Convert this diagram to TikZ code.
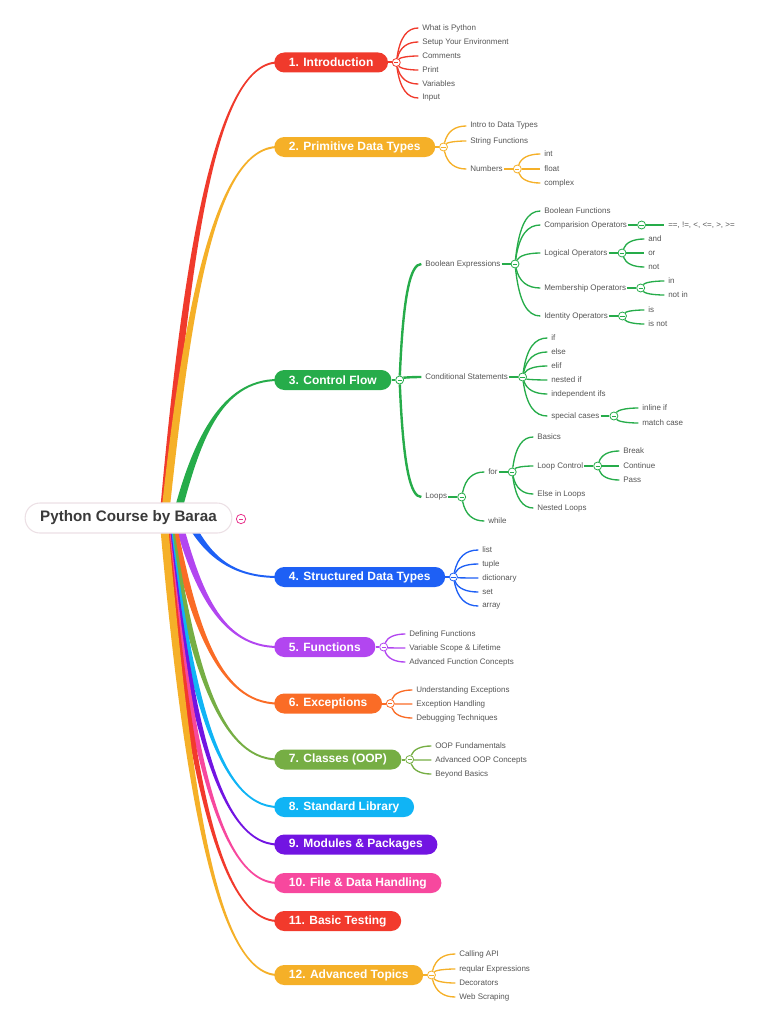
\documentclass[tikz,border=0pt]{standalone}
\usepackage{fontspec}
\setmainfont{Liberation Sans}
\usepackage{tikz}
\usetikzlibrary{backgrounds, calc}
\usepackage{xcolor}

\definecolor{c1}{RGB}{240,58,44}
\definecolor{c2}{RGB}{245,176,40}
\definecolor{c3}{RGB}{38,172,74}
\definecolor{c4}{RGB}{30,96,245}
\definecolor{c5}{RGB}{178,70,240}
\definecolor{c6}{RGB}{250,108,38}
\definecolor{c7}{RGB}{118,174,68}
\definecolor{c8}{RGB}{16,180,245}
\definecolor{c9}{RGB}{114,20,226}
\definecolor{c10}{RGB}{247,72,158}
\definecolor{c11}{RGB}{242,58,44}
\definecolor{c12}{RGB}{245,176,40}
\definecolor{leafgray}{RGB}{85,85,85}
\definecolor{rootgray}{RGB}{58,58,58}
\definecolor{rootedge}{RGB}{236,224,229}
\definecolor{rootpink}{RGB}{232,52,140}

\begin{document}
\begin{tikzpicture}[x=0.75pt,y=0.75pt,yscale=-1,xscale=1,
  pill/.style={fill=#1, rounded corners=7.5pt, minimum height=15pt, inner xsep=11pt, inner ysep=0pt, anchor=west, text=white, font=\bfseries\fontsize{9}{10}\selectfont},
  leaf/.style={anchor=west, inner sep=0.75pt, text=leafgray, font=\fontsize{6}{7}\selectfont},
  knob/.style={circle, draw=#1, fill=white, line width=0.6pt, minimum size=6pt, inner sep=0pt,
    path picture={\draw[#1, line width=0.6pt] ([xshift=-1.6pt]path picture bounding box.center) -- ([xshift=1.6pt]path picture bounding box.center);}},
  twig/.style={draw=#1, line width=1pt, shorten >=2pt,
    to path={let \p1=(\tikztostart), \p2=(\tikztotarget) in .. controls ({\x1+0.15*(\x2-\x1)},{\y1+0.75*(\y2-\y1)}) and ({\x1+0.45*(\x2-\x1)},\y2) .. (\tikztotarget)}}]
\useasboundingbox (0,0) rectangle (768,1024);

%Shape: Root
\node[draw=rootedge, fill=white, line width=0.8pt, rounded corners=11pt, minimum width=155pt, minimum height=22.5pt, text=rootgray, font=\bfseries\fontsize{11.4}{13}\selectfont] (root) at (128.5,518) {Python Course by Baraa};
\node[knob=rootpink, minimum size=7pt] (kroot) at (241,519) {};
\coordinate (hub) at (158,518);

%Shape: Main topics
\node[pill=c1] (b1) at (274,62.5) {1. Introduction};
\node[pill=c2] (b2) at (274,147) {2. Primitive Data Types};
\node[pill=c3] (b3) at (274,380) {3. Control Flow};
\node[pill=c4] (b4) at (274,577) {4. Structured Data Types};
\node[pill=c5] (b5) at (274,647) {5. Functions};
\node[pill=c6] (b6) at (274,703.5) {6. Exceptions};
\node[pill=c7] (b7) at (274,759.5) {7. Classes (OOP)};
\node[pill=c8] (b8) at (274,807) {8. Standard Library};
\node[pill=c9] (b9) at (274,844.5) {9. Modules \& Packages};
\node[pill=c10] (b10) at (274,883) {10. File \& Data Handling};
\node[pill=c11] (b11) at (274,921) {11. Basic Testing};
\node[pill=c12] (b12) at (274,975) {12. Advanced Topics};

\foreach \i in {1,2,3,4,5,6,7,12}
  \node[knob=c\i] (k\i) at ([xshift=6pt]b\i.east) {};

% Text Node
\node[leaf] (i1) at (421,28) {What is Python};
\node[leaf] (i2) at (421,42) {Setup Your Environment};
\node[leaf] (i3) at (421,56) {Comments};
\node[leaf] (i4) at (421,70) {Print};
\node[leaf] (i5) at (421,84) {Variables};
\node[leaf] (i6) at (421,98) {Input};

% Text Node
\node[leaf] (d1) at (469,126) {Intro to Data Types};
\node[leaf] (d2) at (469,141) {String Functions};
\node[leaf] (d3) at (469,169) {Numbers};
\node[knob=c2] (kd3) at ([xshift=10pt]d3.east) {};
\node[leaf] (n1) at (543,154) {int};
\node[leaf] (n2) at (543,169) {float};
\node[leaf] (n3) at (543,183) {complex};

% Text Node
\node[leaf] (be) at (424,264) {Boolean Expressions};
\node[leaf] (cs) at (424,377) {Conditional Statements};
\node[leaf] (lp) at (424,497) {Loops};
\node[knob=c3] (kbe) at ([xshift=10pt]be.east) {};
\node[knob=c3] (kcs) at ([xshift=10pt]cs.east) {};
\node[knob=c3] (klp) at ([xshift=10pt]lp.east) {};

\node[leaf] (bf) at (543,211) {Boolean Functions};
\node[leaf] (co) at (543,225) {Comparision Operators};
\node[leaf] (lo) at (543,253) {Logical Operators};
\node[leaf] (mo) at (543,288) {Membership Operators};
\node[leaf] (io) at (543,316) {Identity Operators};
\node[knob=c3] (kco) at ([xshift=10pt]co.east) {};
\node[knob=c3] (klo) at ([xshift=10pt]lo.east) {};
\node[knob=c3] (kmo) at ([xshift=10pt]mo.east) {};
\node[knob=c3] (kio) at ([xshift=10pt]io.east) {};
\node[leaf] (co1) at (667,225) {==, !=, <, <=, >, >=};
\node[leaf] (lo1) at (647,239) {and};
\node[leaf] (lo2) at (647,253) {or};
\node[leaf] (lo3) at (647,267) {not};
\node[leaf] (mo1) at (667,281) {in};
\node[leaf] (mo2) at (667,295) {not in};
\node[leaf] (io1) at (647,310) {is};
\node[leaf] (io2) at (647,324) {is not};

\node[leaf] (cs1) at (550,338) {if};
\node[leaf] (cs2) at (550,352) {else};
\node[leaf] (cs3) at (550,366) {elif};
\node[leaf] (cs4) at (550,380) {nested if};
\node[leaf] (cs5) at (550,394) {independent ifs};
\node[leaf] (cs6) at (550,416) {special cases};
\node[knob=c3] (ksc) at ([xshift=10pt]cs6.east) {};
\node[leaf] (sc1) at (641,408) {inline if};
\node[leaf] (sc2) at (641,423) {match case};

\node[leaf] (fr) at (487,472) {for};
\node[leaf] (wh) at (487,521) {while};
\node[knob=c3] (kfr) at ([xshift=10pt]fr.east) {};
\node[leaf] (fr1) at (536,437) {Basics};
\node[leaf] (fr2) at (536,466) {Loop Control};
\node[leaf] (fr3) at (536,494) {Else in Loops};
\node[leaf] (fr4) at (536,508) {Nested Loops};
\node[knob=c3] (klc) at ([xshift=10pt]fr2.east) {};
\node[leaf] (lc1) at (622,451) {Break};
\node[leaf] (lc2) at (622,466) {Continue};
\node[leaf] (lc3) at (622,480) {Pass};

% Text Node
\node[leaf] (s1) at (481,550) {list};
\node[leaf] (s2) at (481,564) {tuple};
\node[leaf] (s3) at (481,578) {dictionary};
\node[leaf] (s4) at (481,592) {set};
\node[leaf] (s5) at (481,606) {array};

\node[leaf] (f1) at (408,634) {Defining Functions};
\node[leaf] (f2) at (408,648) {Variable Scope \& Lifetime};
\node[leaf] (f3) at (408,662) {Advanced Function Concepts};

\node[leaf] (e1) at (415,690) {Understanding Exceptions};
\node[leaf] (e2) at (415,704) {Exception Handling};
\node[leaf] (e3) at (415,718) {Debugging Techniques};

\node[leaf] (o1) at (434,746) {OOP Fundamentals};
\node[leaf] (o2) at (434,760) {Advanced OOP Concepts};
\node[leaf] (o3) at (434,774) {Beyond Basics};

\node[leaf] (a1) at (458,954) {Calling API};
\node[leaf] (a2) at (458,969) {reqular Expressions};
\node[leaf] (a3) at (458,983) {Decorators};
\node[leaf] (a4) at (458,997) {Web Scraping};

\begin{scope}[on background layer]
%Shape: root links
\foreach \i in {1,...,12}
  \fill[c\i] let \p1=(hub), \p2=(b\i.west), \n1={2*(\y2>\y1)-1}, \n2={min(1406/abs(\y2-\y1),22)}, \n3={\x1+\n2} in
    ({\n3-3pt},\y1) .. controls ({\n3+0.2*(\x2-\n3)-3pt},{\y1+0.55*(\y2-\y1)}) and ({\x2-0.55*(\x2-\n3)},{\y2+\n1*0.75pt}) .. ({\x2+3pt},{\y2+\n1*0.75pt})
    -- ({\x2+3pt},{\y2-\n1*0.75pt}) .. controls ({\x2-0.55*(\x2-\n3)},{\y2-\n1*0.75pt}) and ({\n3+0.2*(\x2-\n3)+3pt},{\y1+0.55*(\y2-\y1)}) .. ({\n3+3pt},\y1) -- cycle;

\foreach \i in {1,2,3,4,5,6,7,12}
  \draw[c\i, line width=1.5pt] (b\i.east) -- (k\i);

%Straight Lines: branches
\foreach \j in {1,...,6} \draw[twig=c1] (k1) to (i\j.west);
\foreach \j in {1,2,3} \draw[twig=c2] (k2) to (d\j.west);
\draw[c2, line width=2pt] (d3.east) -- (kd3);
\foreach \j in {1,2,3} \draw[twig=c2] (kd3) to (n\j.west);

\foreach \l in {be,cs,lp} {
  \draw[twig=c3, line width=1.8pt] (k3) to (\l.west);
  \draw[c3, line width=2pt] (\l.east) -- (k\l);
}
\foreach \l in {bf,co,lo,mo,io} \draw[twig=c3] (kbe) to (\l.west);
\foreach \l in {co,lo,mo,io} \draw[c3, line width=2pt] (\l.east) -- (k\l);
\draw[twig=c3] (kco) to (co1.west);
\foreach \j in {1,2,3} \draw[twig=c3] (klo) to (lo\j.west);
\foreach \j in {1,2} {
  \draw[twig=c3] (kmo) to (mo\j.west);
  \draw[twig=c3] (kio) to (io\j.west);
  \draw[twig=c3] (ksc) to (sc\j.west);
}
\foreach \j in {1,...,6} \draw[twig=c3] (kcs) to (cs\j.west);
\draw[c3, line width=2pt] (cs6.east) -- (ksc);
\foreach \l in {fr,wh} \draw[twig=c3] (klp) to (\l.west);
\draw[c3, line width=2pt] (fr.east) -- (kfr);
\foreach \j in {1,...,4} \draw[twig=c3] (kfr) to (fr\j.west);
\draw[c3, line width=2pt] (fr2.east) -- (klc);
\foreach \j in {1,2,3} \draw[twig=c3] (klc) to (lc\j.west);

\foreach \j in {1,...,5} \draw[twig=c4] (k4) to (s\j.west);
\foreach \j in {1,2,3} {
  \draw[twig=c5] (k5) to (f\j.west);
  \draw[twig=c6] (k6) to (e\j.west);
  \draw[twig=c7] (k7) to (o\j.west);
}
\foreach \j in {1,...,4} \draw[twig=c12] (k12) to (a\j.west);
\end{scope}

\end{tikzpicture}
\end{document}
